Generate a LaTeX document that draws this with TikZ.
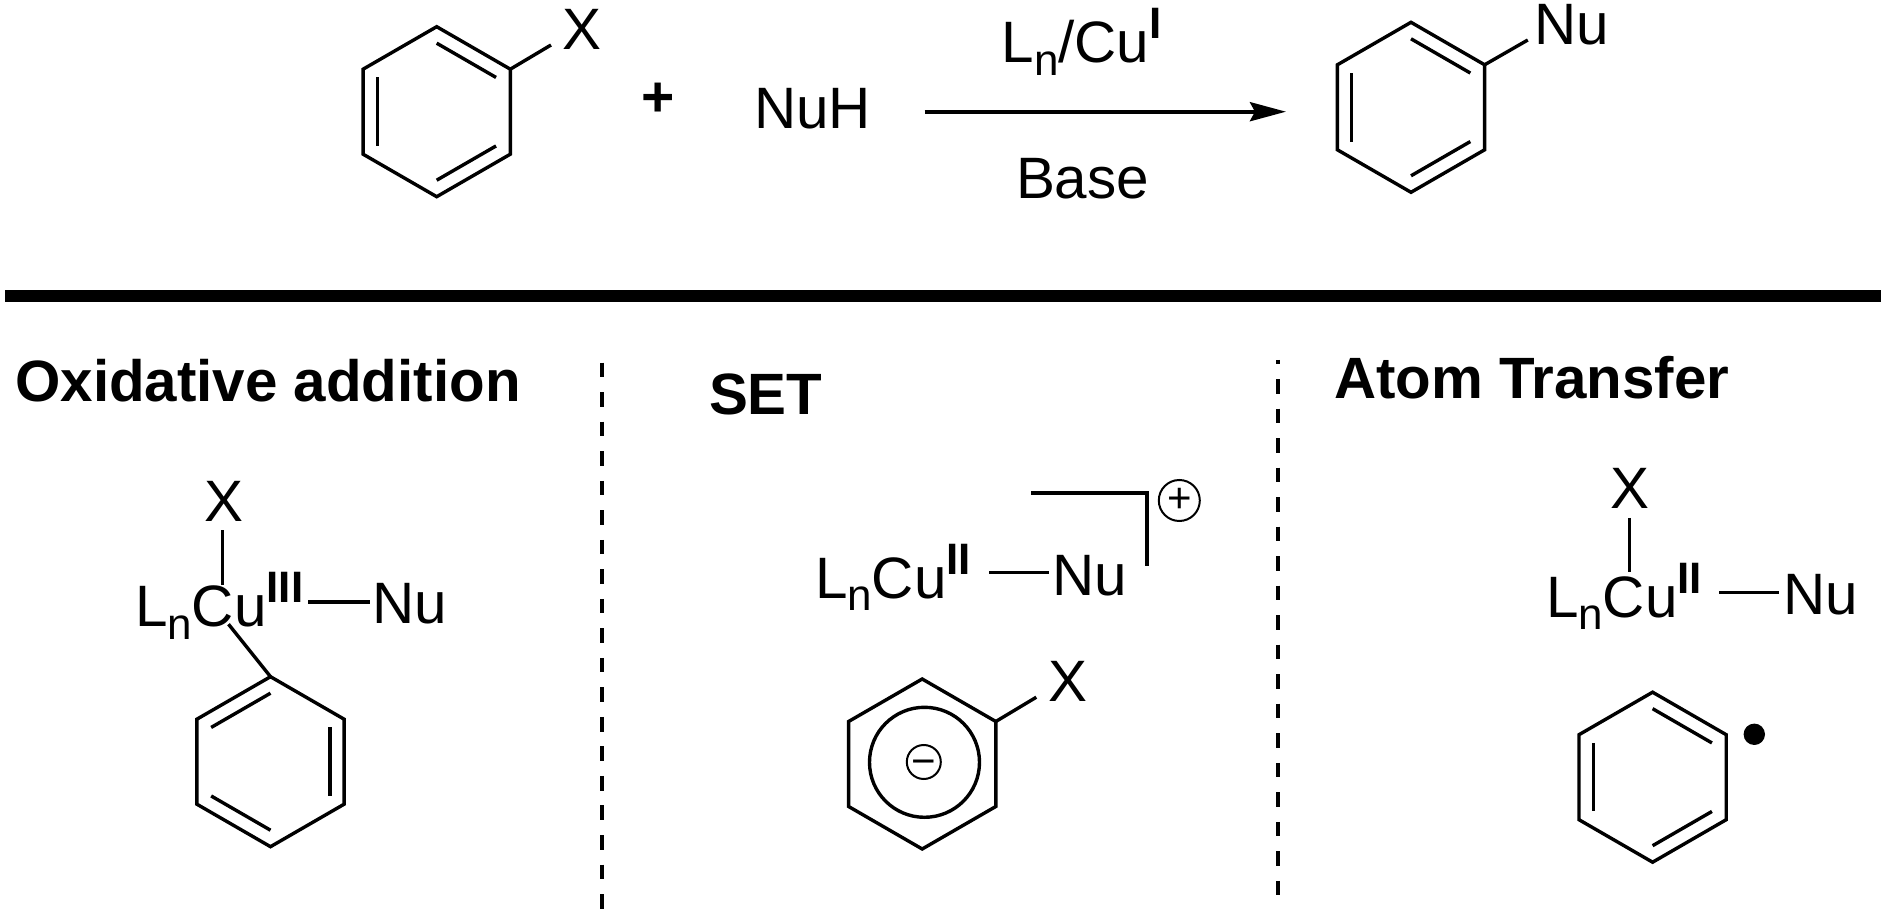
\documentclass[tikz,border=0pt]{standalone}
\usepackage{fontspec}
\setmainfont{Liberation Sans}
\usetikzlibrary{arrows.meta,calc,shapes.geometric}
\newcommand{\subn}{\raisebox{-6.2pt}{\fontsize{22}{22}\selectfont n}}
\newcommand{\supox}[1]{\raisebox{12pt}{\fontsize{22}{22}\selectfont\bfseries #1}}
\newcommand{\dblbond}[3]{\draw[bondline] ($(#1.center)!0.806!(#1.corner #2)$) -- ($(#1.center)!0.806!(#1.corner #3)$);}
\tikzset{
  atomtext/.style={inner sep=0pt, outer sep=0pt, anchor=base west, font=\fontsize{29.2}{30}\selectfont},
  titletext/.style={atomtext, font=\fontsize{29.15}{30}\selectfont\bfseries},
  bondline/.style={line width=1.7pt},
  ringbox/.style={draw, line width=1.7pt, regular polygon, regular polygon sides=6, shape border rotate=30, minimum size=85pt, inner sep=0pt, outer sep=0pt},
  divider/.style={line width=2.1pt, dash pattern=on 7.3pt off 7.46pt},
  chargebox/.style={draw, circle, line width=1pt, inner sep=0pt, outer sep=0pt, font=\fontsize{21}{21}\selectfont}
}
\begin{document}
\begin{tikzpicture}[x=0.5pt, y=-0.5pt]
\useasboundingbox (0,0) rectangle (1887,914);
\node[ringbox] (ring1) at (436.7,111.7) {};
\foreach \a/\b in {1/6,2/3,4/5} {\dblbond{ring1}{\a}{\b}}
\node[atomtext] (x1) at (562,50) {X};
\coordinate (x1bond) at (551,45);
\draw[bondline] (ring1.corner 6) -- (x1bond);
\node[atomtext, anchor=center, font=\fontsize{28.5}{30}\selectfont\bfseries] (plus1) at (658,100) {+};
\node[atomtext] (nuh) at (754,129) {NuH};
\coordinate (arrstart) at (924.5,111.7);
\coordinate (arrend) at (1286,111.7);
\draw[line width=2pt, -{Stealth[length=18pt, width=9.5pt, inset=2.5pt]}] (arrstart) -- (arrend);
\node[atomtext] (reagent) at (1001.6,62.7) {L\subn/Cu\supox{I}};
\node[atomtext] (base) at (1016,199) {Base};
\node[ringbox] (ring2) at (1411,107.3) {};
\foreach \a/\b in {1/6,2/3,4/5} {\dblbond{ring2}{\a}{\b}}
\node[atomtext] (nu2) at (1534.7,45) {Nu};
\coordinate (nu2bond) at (1527.8,40);
\draw[bondline] (ring2.corner 6) -- (nu2bond);
\coordinate (ruleleft) at (5,296);
\coordinate (ruleright) at (1881,296);
\draw[line width=6.3pt] (ruleleft) -- (ruleright);
\coordinate (div1top) at (602.2,362.7);
\coordinate (div1bot) at (602.2,908.7);
\draw[divider] (div1top) -- (div1bot);
\coordinate (div2top) at (1278,360);
\coordinate (div2bot) at (1278,895.7);
\draw[divider, dash phase=5.25pt] (div2top) -- (div2bot);
\node[titletext] (title1) at (15.3,401.6) {Oxidative addition};
\node[atomtext] (x3) at (204,522) {X};
\node[atomtext] (cu3) at (135,626.8) {L\subn Cu\supox{III}};
\node[atomtext] (nu3) at (372,623.4) {Nu};
\coordinate (x3top) at (222.5,530.4);
\coordinate (x3bot) at (222.5,585.1);
\draw[bondline] (x3top) -- (x3bot);
\coordinate (nu3left) at (308,601.9);
\coordinate (nu3right) at (369.6,601.9);
\draw[bondline] (nu3left) -- (nu3right);
\node[ringbox] (ring3) at (270.5,761.7) {};
\foreach \a/\b in {1/2,3/4,5/6} {\dblbond{ring3}{\a}{\b}}
\coordinate (cu3bond) at (228.5,624.2);
\draw[bondline] (ring3.corner 1) -- (cu3bond);
\node[titletext] (title2) at (709,414.5) {SET};
\node[atomtext] (cu4) at (815,598.2) {L\subn Cu\supox{II}};
\node[atomtext] (nu4) at (1052,595.2) {Nu};
\coordinate (nu4left) at (989,572.6);
\coordinate (nu4right) at (1049,572.6);
\draw[bondline] (nu4left) -- (nu4right);
\coordinate (brleft) at (1031,493.1);
\coordinate (brcorner) at (1146.5,493.1);
\coordinate (brbot) at (1146.5,566.5);
\draw[line width=2pt] (brleft) -- (brcorner) -- (brbot);
\node[chargebox, minimum size=20.5pt] (plus4) at (1179.3,500.5) {+};
\node[ringbox] (ring4) at (922.2,764) {};
\node[draw, circle, line width=1.7pt, minimum size=55pt, inner sep=0pt] (ion4) at (924.5,762.3) {};
\node[chargebox, minimum size=17pt] (minus4) at (923.8,762) {\raisebox{-6.9pt}[0pt][0pt]{−}};
\node[atomtext] (x4) at (1048,701.3) {X};
\coordinate (x4bond) at (1036.3,697.2);
\draw[bondline] (ring4.corner 6) -- (x4bond);
\node[titletext] (title3) at (1334,398.9) {Atom Transfer};
\node[atomtext] (x5) at (1610,508.8) {X};
\node[atomtext] (cu5) at (1546,617.4) {L\subn Cu\supox{II}};
\node[atomtext] (nu5) at (1783,614.9) {Nu};
\coordinate (x5top) at (1629.2,518);
\coordinate (x5bot) at (1629.2,572);
\draw[bondline] (x5top) -- (x5bot);
\coordinate (nu5left) at (1719.4,592.5);
\coordinate (nu5right) at (1779.4,592.5);
\draw[bondline] (nu5left) -- (nu5right);
\node[ringbox] (ring5) at (1652.6,777.2) {};
\foreach \a/\b in {1/6,2/3,4/5} {\dblbond{ring5}{\a}{\b}}
\node[circle, fill=black, minimum size=10.7pt, inner sep=0pt] (dot5) at (1754.3,734.3) {};
\end{tikzpicture}
\end{document}
